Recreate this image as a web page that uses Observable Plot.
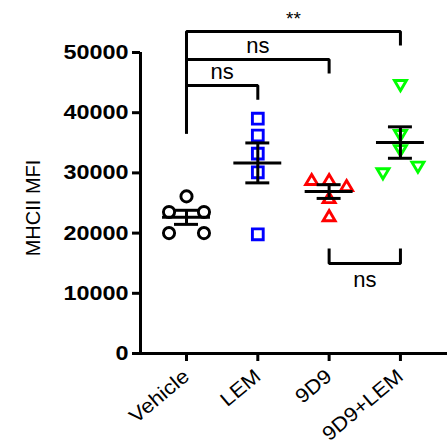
<!DOCTYPE html>
<html>
<head>
<meta charset="utf-8">
<script src="https://cdn.jsdelivr.net/npm/d3@7"></script>
<script src="https://cdn.jsdelivr.net/npm/@observablehq/plot@0.6"></script>
<style>
  html, body { margin: 0; padding: 0; background: white; }
</style>
</head>
<body>
<div id="chart"></div>
<script>
// ---- data ----
const groups = ["Vehicle", "LEM", "9D9", "9D9+LEM"];
const vehicle = [26100, 23500, 23500, 20000, 20000];
const lem = [39000, 36200, 33200, 30100, 19800];
const d9 = [28900, 28900, 27900, 25900, 22900];
const d9lem = [44500, 36200, 33700, 29850, 30950];
const yTicks = [0, 10000, 20000, 30000, 40000, 50000];
const yLabel = "MHCII MFI";
// significance comparisons (level = value of bracket line)
const comparisons = [
  {a: "Vehicle", b: "9D9+LEM", label: "**", level: 53500, below: false},
  {a: "Vehicle", b: "9D9", label: "ns", level: 48850, below: false},
  {a: "Vehicle", b: "LEM", label: "ns", level: 44500, below: false},
  {a: "9D9", b: "9D9+LEM", label: "ns", level: 14950, below: true}
];
const leftLegBottom = 36550;

// ---- styling ----
const colors = ["#000000", "#0000ff", "#ff0000", "#00ff00"];
const triUp = {draw(ctx, size) { const r = Math.sqrt(size / Math.PI); const w = r * 0.95, h = r * 1.6;
  ctx.moveTo(0, -h / 2); ctx.lineTo(w, h / 2); ctx.lineTo(-w, h / 2); ctx.closePath(); }};
const triDown = {draw(ctx, size) { const r = Math.sqrt(size / Math.PI); const w = r * 0.95, h = r * 1.6;
  ctx.moveTo(0, h / 2); ctx.lineTo(w, -h / 2); ctx.lineTo(-w, -h / 2); ctx.closePath(); }};
const symbols = ["circle", "square", triUp, triDown];
const radii = [5.6, 6.1, 6.3, 6.3];

const W = 447, H = 444, mL = 140, mR = 0, mT = 52, mB = 91;
const xDomain = [-0.645, 3.66];
const pxPerY = (H - mT - mB) / 50000;
const rowSpacing = 0.245; // in category units

const series = [vehicle, lem, d9, d9lem];

// scatter-dot layout: values within ~10px share a row, spread symmetrically
function rowOffsets(values) {
  const order = values.map((v, i) => i).sort((a, b) => values[b] - values[a] || a - b);
  const rows = [];
  for (const i of order) {
    const row = rows[rows.length - 1];
    if (row && (values[row[0]] - values[i]) * pxPerY < 10) row.push(i);
    else rows.push([i]);
  }
  const off = new Array(values.length).fill(0);
  for (const row of rows) {
    row.sort((a, b) => a - b);
    const n = row.length;
    const step = n % 2 === 0 ? 2 * rowSpacing : rowSpacing;
    row.forEach((i, j) => off[i] = (j - (n - 1) / 2) * step);
  }
  return off;
}

const points = series.map((vals, g) => {
  const off = rowOffsets(vals);
  return vals.map((v, i) => ({g, x: g + off[i], v}));
});

const stats = series.map((vals, g) => {
  const m = d3.mean(vals);
  const sem = d3.deviation(vals) / Math.sqrt(vals.length);
  return {g, mean: m, lo: m - sem, hi: m + sem};
});

const drop = 2350;
const bracketPts = [];
const bracketLabels = [];
comparisons.forEach((c, k) => {
  const ia = groups.indexOf(c.a), ib = groups.indexOf(c.b);
  if (!c.below) {
    bracketPts.push({id: k, x: ib, y: c.level - drop}, {id: k, x: ib, y: c.level},
                    {id: k, x: ia, y: c.level}, {id: k, x: ia, y: leftLegBottom});
    bracketLabels.push({x: (ia + ib) / 2, y: c.level + (c.label === "ns" ? 2300 : 2050), label: c.label,
                        size: c.label === "ns" ? 22 : 19});
  } else {
    bracketPts.push({id: k, x: ia, y: c.level + 2500}, {id: k, x: ia, y: c.level},
                    {id: k, x: ib, y: c.level}, {id: k, x: ib, y: c.level + 2500});
    bracketLabels.push({x: (ia + ib) / 2, y: c.level - 2770, label: c.label, size: 22});
  }
});

const chart = Plot.plot({
  width: W, height: H,
  marginLeft: mL, marginRight: mR, marginTop: mT, marginBottom: mB,
  x: {type: "linear", domain: xDomain, axis: null},
  y: {domain: [0, 50000], axis: null},
  style: {fontFamily: "'Liberation Sans', Arial, sans-serif", background: "white", color: "black", overflow: "visible"},
  marks: [
    Plot.ruleY([0], {strokeWidth: 3}),
    Plot.ruleX([xDomain[0]], {y1: 0, y2: 50000, strokeWidth: 3}),
    Plot.axisY({ticks: yTicks, tickSize: 8, tickPadding: 4, strokeWidth: 3, fontSize: 20, fontWeight: "bold",
      tickFormat: d3.format("d"), label: null, anchor: "left"}),
    Plot.axisX({ticks: [0, 1, 2, 3], tickFormat: i => groups[i], tickRotate: -40, tickSize: 8, tickPadding: 12,
      strokeWidth: 3, fontSize: 20, label: null, anchor: "bottom"}),
    Plot.text([yLabel], {frameAnchor: "left", text: d => d, rotate: -90, dx: -106.5, dy: 5, fontSize: 20,
      textAnchor: "middle", lineAnchor: "middle", ariaLabel: "ylabel"}),
    ...points.map((pts, g) => Plot.dot(pts, {x: "x", y: "v", symbol: symbols[g], r: radii[g],
      stroke: colors[g], strokeWidth: 2.9, fill: "none"})),
    Plot.ruleY(stats, {x1: d => d.g - 0.336, x2: d => d.g + 0.336, y: "mean", strokeWidth: 3}),
    Plot.ruleY(stats, {x1: d => d.g - 0.168, x2: d => d.g + 0.168, y: "hi", strokeWidth: 3}),
    Plot.ruleY(stats, {x1: d => d.g - 0.168, x2: d => d.g + 0.168, y: "lo", strokeWidth: 3}),
    Plot.ruleX(stats, {x: "g", y1: "lo", y2: "hi", strokeWidth: 3}),
    Plot.line(bracketPts, {x: "x", y: "y", z: "id", strokeWidth: 3, strokeLinejoin: "miter", strokeLinecap: "butt"}),
    Plot.text(bracketLabels, {x: "x", y: "y", text: "label", fontSize: "size"})
  ]
});

// widen glyphs horizontally (the reference font is wider than Arial)
function stretch(t, s) {
  const tr = t.getAttribute("transform") || "";
  const xa = t.getAttribute("x");
  const x = xa != null && isFinite(+xa) ? +xa : 0;
  if (xa != null && isFinite(+xa)) t.setAttribute("x", 0);
  t.setAttribute("transform", `${tr} translate(${x},0) scale(${s},1)`);
}
chart.querySelectorAll('g[aria-label="y-axis tick label"] text').forEach(t => stretch(t, 1.17));
chart.querySelectorAll('g[aria-label="x-axis tick label"] text').forEach(t => stretch(t, 1.1));
chart.querySelectorAll('g[aria-label="ylabel"] text').forEach(t => stretch(t, 1.09));

document.getElementById("chart").appendChild(chart);
</script>
</body>
</html>
